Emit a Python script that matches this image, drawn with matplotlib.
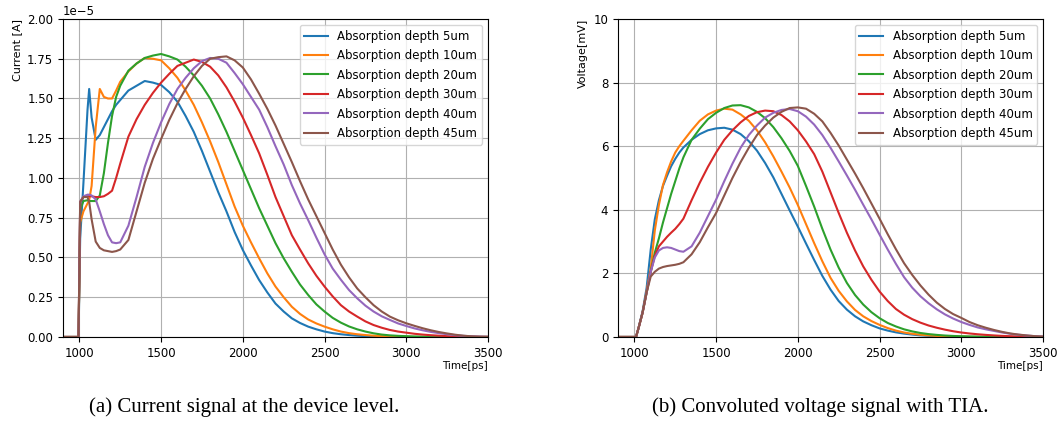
import numpy as np
import matplotlib.pyplot as plt

labels = ["Absorption depth 5um", "Absorption depth 10um", "Absorption depth 20um",
          "Absorption depth 30um", "Absorption depth 40um", "Absorption depth 45um"]

# current signal, time in ps, values in 1e-5 A
t_cur = [900, 995, 1005, 1025, 1050, 1060, 1075, 1100, 1125, 1150, 1175, 1200, 1225, 1250] + list(range(1300, 3501, 50))

cur_5 = [0, 0, 0.62, 0.97, 1.43, 1.56, 1.38, 1.24, 1.27, 1.32, 1.37, 1.42, 1.46, 1.49,
         1.55, 1.58, 1.61, 1.60, 1.585,
         1.54, 1.48, 1.39, 1.29, 1.17,
         1.04, 0.91, 0.79, 0.66, 0.547,
         0.45, 0.358, 0.28, 0.21, 0.16,
         0.117, 0.088, 0.065, 0.048, 0.034,
         0.024, 0.017, 0.012, 0.008, 0.005,
         0.003, 0.002, 0.001, 0, 0,
         0, 0, 0, 0, 0,
         0, 0, 0, 0, 0]
cur_10 = [0, 0, 0.72, 0.79, 0.84, 0.86, 0.95, 1.32, 1.56, 1.51, 1.50, 1.50, 1.55, 1.605,
          1.67, 1.72, 1.755, 1.75, 1.74,
          1.69, 1.63, 1.55, 1.46, 1.35,
          1.23, 1.10, 0.96, 0.82, 0.70,
          0.595, 0.495, 0.40, 0.317, 0.25,
          0.19, 0.145, 0.11, 0.085, 0.065,
          0.048, 0.034, 0.024, 0.017, 0.012,
          0.008, 0.005, 0.003, 0.002, 0.001,
          0, 0, 0, 0, 0,
          0, 0, 0, 0, 0]
cur_20 = [0, 0, 0.80, 0.855, 0.86, 0.855, 0.855, 0.855, 0.89, 1.03, 1.22, 1.39, 1.51, 1.58,
          1.675, 1.72, 1.755, 1.77, 1.78,
          1.765, 1.745, 1.70, 1.645, 1.58,
          1.50, 1.40, 1.29, 1.17, 1.05,
          0.93, 0.81, 0.70, 0.59, 0.495,
          0.41, 0.33, 0.264, 0.205, 0.16,
          0.12, 0.09, 0.066, 0.048, 0.034,
          0.023, 0.015, 0.01, 0.007, 0.005,
          0.003, 0.002, 0.001, 0, 0,
          0, 0, 0, 0, 0]
cur_30 = [0, 0, 0.85, 0.88, 0.885, 0.885, 0.885, 0.88, 0.88, 0.885, 0.90, 0.92, 1.00, 1.09,
          1.26, 1.37, 1.46, 1.535, 1.60,
          1.655, 1.705, 1.725, 1.745, 1.73,
          1.70, 1.645, 1.57, 1.48, 1.38,
          1.27, 1.155, 1.02, 0.88, 0.76,
          0.64, 0.55, 0.463, 0.385, 0.317,
          0.255, 0.20, 0.16, 0.128, 0.098,
          0.075, 0.058, 0.044, 0.034, 0.027,
          0.02, 0.015, 0.011, 0.008, 0.005,
          0.003, 0.002, 0.001, 0, 0]
cur_40 = [0, 0, 0.85, 0.885, 0.895, 0.895, 0.89, 0.865, 0.79, 0.71, 0.64, 0.595, 0.59, 0.595,
          0.70, 0.88, 1.07, 1.22, 1.35,
          1.465, 1.56, 1.63, 1.69, 1.735,
          1.755, 1.75, 1.725, 1.66, 1.59,
          1.51, 1.43, 1.32, 1.20, 1.085,
          0.955, 0.84, 0.735, 0.625, 0.52,
          0.43, 0.36, 0.295, 0.243, 0.197,
          0.16, 0.13, 0.107, 0.085, 0.069,
          0.054, 0.042, 0.032, 0.024, 0.017,
          0.011, 0.007, 0.004, 0.002, 0.001]
cur_45 = [0, 0, 0.85, 0.88, 0.88, 0.85, 0.74, 0.60, 0.56, 0.545, 0.54, 0.535, 0.54, 0.55,
          0.61, 0.79, 0.97, 1.12, 1.245,
          1.365, 1.47, 1.56, 1.64, 1.705,
          1.75, 1.76, 1.765, 1.74, 1.695,
          1.62, 1.53, 1.435, 1.33, 1.215,
          1.10, 0.98, 0.865, 0.76, 0.655,
          0.55, 0.455, 0.375, 0.305, 0.25,
          0.20, 0.16, 0.128, 0.105, 0.086,
          0.07, 0.055, 0.042, 0.031, 0.022,
          0.014, 0.008, 0.004, 0.002, 0.001]

# voltage after TIA, mV
t_volt = [900, 1000, 1010, 1025, 1050, 1075, 1100, 1125, 1150, 1175, 1200, 1225, 1250, 1275, 1300] + list(range(1350, 3501, 50))

volt_5 = [0, 0, 0, 0.28, 0.80, 1.55, 2.75, 3.7, 4.3, 4.75, 5.07, 5.37, 5.6, 5.8, 5.96,
          6.2, 6.38, 6.5, 6.56, 6.58,
          6.52, 6.38, 6.16, 5.86, 5.47,
          5.02, 4.5, 3.98, 3.47, 2.94,
          2.42, 1.92, 1.49, 1.13, 0.86,
          0.65, 0.49, 0.37, 0.27, 0.2,
          0.145, 0.105, 0.075, 0.05, 0.035,
          0.024, 0.016, 0.01, 0.006, 0.004,
          0.002, 0.001, 0, 0, 0,
          0, 0, 0, 0]
volt_10 = [0, 0, 0, 0.27, 0.76, 1.45, 2.15, 3.35, 4.15, 4.78, 5.18, 5.52, 5.8, 6.0, 6.17,
           6.5, 6.8, 7.0, 7.12, 7.18,
           7.15, 7.0, 6.8, 6.5, 6.12,
           5.68, 5.2, 4.7, 4.15, 3.55,
           2.95, 2.38, 1.86, 1.45, 1.12,
           0.85, 0.65, 0.5, 0.38, 0.28,
           0.2, 0.14, 0.1, 0.07, 0.048,
           0.033, 0.022, 0.014, 0.009, 0.005,
           0.003, 0.001, 0, 0, 0,
           0, 0, 0, 0]
volt_20 = [0, 0, 0, 0.27, 0.76, 1.4, 2.05, 2.65, 3.1, 3.6, 4.05, 4.5, 4.9, 5.3, 5.65,
           6.2, 6.55, 6.85, 7.05, 7.2,
           7.28, 7.29, 7.22, 7.08, 6.88,
           6.6, 6.25, 5.85, 5.38, 4.75,
           4.1, 3.4, 2.75, 2.18, 1.7,
           1.32, 1.02, 0.78, 0.59, 0.44,
           0.33, 0.24, 0.175, 0.125, 0.09,
           0.065, 0.045, 0.032, 0.022, 0.015,
           0.01, 0.006, 0.004, 0.002, 0.001,
           0, 0, 0, 0]
volt_30 = [0, 0, 0, 0.27, 0.76, 1.4, 2.05, 2.55, 2.85, 3.0, 3.15, 3.28, 3.4, 3.55, 3.72,
           4.3, 4.85, 5.35, 5.8, 6.2,
           6.5, 6.75, 6.95, 7.07, 7.12,
           7.1, 6.98, 6.78, 6.5, 6.15,
           5.75, 5.2, 4.55, 3.9, 3.28,
           2.72, 2.22, 1.8, 1.43, 1.13,
           0.88, 0.70, 0.56, 0.45, 0.36,
           0.29, 0.23, 0.18, 0.14, 0.11,
           0.085, 0.065, 0.048, 0.034, 0.023,
           0.015, 0.009, 0.004, 0.002]
volt_40 = [0, 0, 0, 0.27, 0.76, 1.4, 2.05, 2.5, 2.72, 2.8, 2.82, 2.8, 2.75, 2.7, 2.68,
           2.85, 3.28, 3.8, 4.32, 4.9,
           5.45, 5.95, 6.35, 6.65, 6.9,
           7.05, 7.14, 7.17, 7.1, 6.93,
           6.68, 6.35, 5.95, 5.52, 5.08,
           4.63, 4.16, 3.7, 3.22, 2.75,
           2.3, 1.88, 1.55, 1.28, 1.06,
           0.87, 0.71, 0.58, 0.47, 0.38,
           0.3, 0.24, 0.19, 0.14, 0.1,
           0.07, 0.045, 0.025, 0.01]
volt_45 = [0, 0, 0, 0.27, 0.76, 1.4, 1.9, 2.05, 2.15, 2.2, 2.23, 2.25, 2.27, 2.3, 2.35,
           2.6, 2.98, 3.45, 3.9, 4.45,
           5.0, 5.5, 5.95, 6.35, 6.65,
           6.9, 7.08, 7.2, 7.22, 7.18,
           7.02, 6.78, 6.42, 6.02, 5.58,
           5.14, 4.68, 4.2, 3.72, 3.23,
           2.76, 2.32, 1.95, 1.62, 1.33,
           1.08, 0.88, 0.72, 0.6, 0.47,
           0.37, 0.29, 0.22, 0.16, 0.11,
           0.075, 0.048, 0.025, 0.012]

current = [cur_5, cur_10, cur_20, cur_30, cur_40, cur_45]
voltage = [volt_5, volt_10, volt_20, volt_30, volt_40, volt_45]

fig = plt.figure(figsize=(10.59, 4.32), dpi=100)
ax1 = fig.add_axes([0.0595, 0.22, 0.4013, 0.736])
ax2 = fig.add_axes([0.5836, 0.22, 0.4013, 0.736])

for lab, y in zip(labels, current):
    ax1.plot(t_cur, np.array(y) * 1e-5, label=lab)
for lab, y in zip(labels, voltage):
    ax2.plot(t_volt, y, label=lab)

ax1.set_xlim(900, 3500)
ax1.set_ylim(0, 2e-5)
ax1.set_yticks(np.arange(0, 2.01e-5, 0.25e-5))
ax1.set_ylabel("Current [A]", loc="top", fontsize=8)

ax2.set_xlim(900, 3500)
ax2.set_ylim(0, 10)
ax2.set_yticks([0, 2, 4, 6, 8, 10])
ax2.set_ylabel("Voltage[mV]", loc="top", fontsize=8)

for ax in (ax1, ax2):
    ax.set_xticks([1000, 1500, 2000, 2500, 3000, 3500])
    ax.set_xlabel("Time[ps]", loc="right", fontsize=7.5, labelpad=1)
    ax.tick_params(labelsize=8.5)
    ax.yaxis.get_offset_text().set_fontsize(8.5)
    ax.grid(True)
    ax.legend(loc="upper right", fontsize=8.5, labelspacing=0.55)

fig.text(0.231, 0.058, "(a) Current signal at the device level.", ha="center", va="center",
         fontsize=15, family="Liberation Serif")
fig.text(0.775, 0.058, "(b) Convoluted voltage signal with TIA.", ha="center", va="center",
         fontsize=15, family="Liberation Serif")

fig.savefig("out.png", dpi=100)
